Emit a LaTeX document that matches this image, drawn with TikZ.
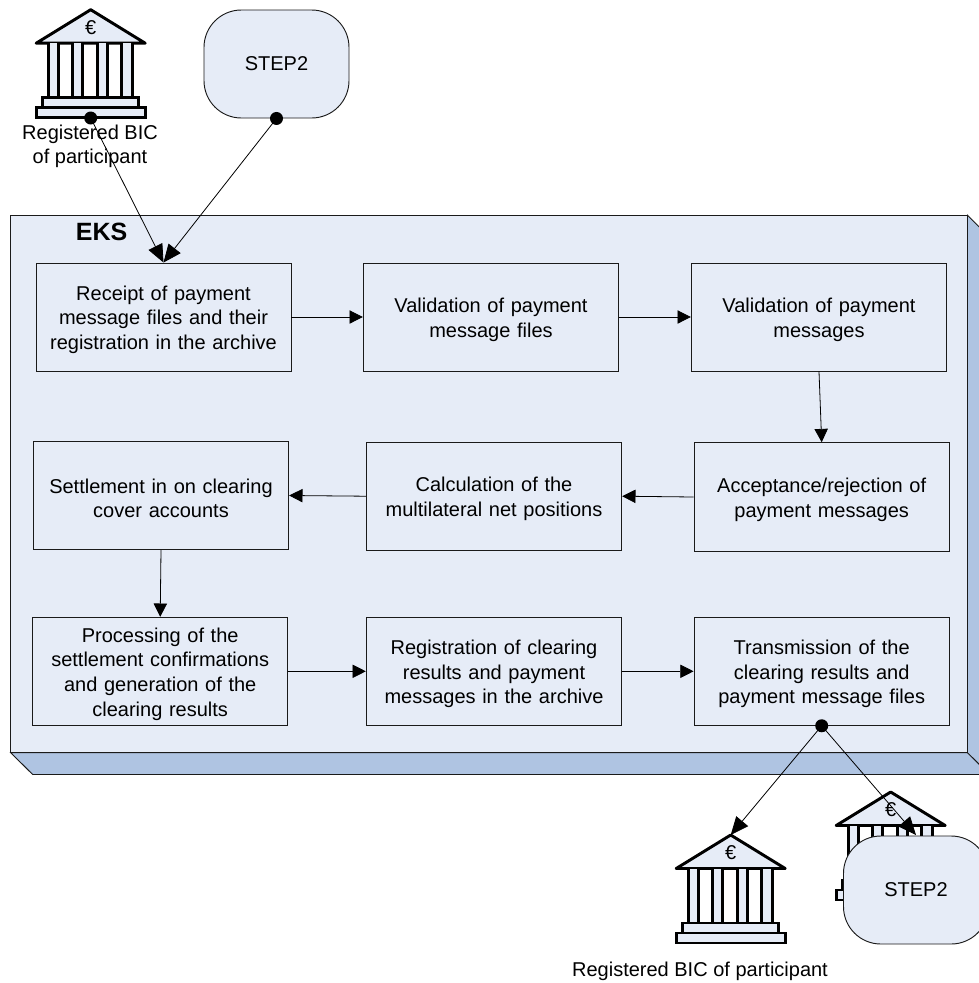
\documentclass[tikz,border=0pt]{standalone}
\usepackage{fontspec}
\setmainfont{Liberation Sans}
\usetikzlibrary{arrows.meta}
\definecolor{fillpale}{HTML}{E6ECF7}
\definecolor{fillside}{HTML}{AFC4E2}
\definecolor{edgegrey}{HTML}{1A1A1A}
\tikzset{
  x=0.75pt,y=-0.75pt,
  procbox/.style={draw=edgegrey,line width=0.7pt,fill=fillpale,inner sep=0pt,align=center,font=\fontsize{15}{18.4}\selectfont},
  cloudbox/.style={draw=edgegrey,line width=0.7pt,fill=fillpale,rounded corners=28pt,minimum width=108.75pt,minimum height=81pt,inner sep=0pt,font=\fontsize{15}{18}\selectfont},
  flow/.style={draw=black,line width=0.6pt,-{Triangle[length=10pt,width=10pt]}},
  bigflow/.style={draw=black,line width=0.6pt,-{Triangle[length=13.5pt,width=11.5pt]}},
  startdot/.style={circle,fill=black,minimum size=9.75pt,inner sep=0pt},
  caption/.style={align=center,font=\fontsize{15}{18.4}\selectfont,inner sep=0pt},
  banktext/.style={font=\fontsize{15}{18}\selectfont,inner sep=0pt},
  pics/bank/.style={code={
    \draw[line width=2.2pt,fill=fillpale,line join=round] (-54.5,33.5)--(0,0)--(54.5,33.5)--cycle;
    \foreach \a/\b in {-42/-32.4,-18/-8,6.6/16.6,31/41.6}{
      \fill[fillpale] (\a,33.5) rectangle (\b,88);
      \draw[line width=2.2pt] (\a,33.5)--(\a,88) (\b,33.5)--(\b,88);
    }
    \draw[line width=2.2pt,fill=fillpale] (-48,88) rectangle (48,98);
    \draw[line width=2.2pt,fill=fillpale] (-54.5,98) rectangle (54.5,108);
    \node[banktext] at (0,18) {€};
  }}
}
\newcommand{\procnode}[6]{%
  \node[procbox,minimum width=#4*0.75pt,minimum height=#5*0.75pt,text width=#4*0.75pt-6pt] (#1) at (#2,#3) {\rule{0pt}{15pt}#6};}
\begin{document}
\begin{tikzpicture}
\useasboundingbox (0,0) rectangle (979,983);
\clip (0,0) rectangle (979,983);
% outer 3D box
\draw[draw=edgegrey,line width=0.7pt,fill=fillside] (10.7,752.7)--(32.7,774.5)--(989.5,774.5)--(989.5,237.3)--(967.5,215.3)--(967.5,752.7)--cycle;
\draw[draw=edgegrey,line width=0.7pt] (967.5,752.7)--(989.5,774.5);
\node[draw=edgegrey,line width=0.7pt,fill=fillpale,minimum width=717.6pt,minimum height=403pt,inner sep=0pt] (eks) at (489.1,484) {};
\node[font=\fontsize{18.75}{22}\selectfont\bfseries,inner sep=0pt] (ekslabel) at (101.7,232) {EKS};
% process boxes
\procnode{recv}{163.5}{317}{255}{108}{Receipt of payment\\message files and their\\registration in the archive}
\procnode{valf}{491}{317}{255.4}{108}{Validation of payment\\message files}
\procnode{valm}{819}{317}{255.4}{108}{Validation of payment\\messages}
\procnode{accp}{821.7}{497}{255.3}{108.6}{Acceptance/rejection of\\payment messages}
\procnode{calc}{494}{496.2}{255.4}{108.3}{Calculation of the\\multilateral net positions}
\procnode{setl}{161}{495.5}{255.4}{108.4}{Settlement in on clearing\\cover accounts}
\procnode{proc}{160.2}{671.3}{255}{108}{Processing of the\\settlement confirmations\\and generation of the\\clearing results}
\procnode{regs}{494}{671.3}{255.4}{108}{Registration of clearing\\results and payment\\messages in the archive}
\procnode{tran}{821.7}{671.3}{255.3}{108}{Transmission of the\\clearing results and\\payment message files}
% process arrows
\draw[flow] (recv.east)--(valf.west);
\draw[flow] (valf.east)--(valm.west);
\draw[flow] (valm.south)--(accp.north);
\draw[flow] (accp.west)--(calc.east);
\draw[flow] (calc.west)--(setl.east);
\draw[flow] (setl.south)--(proc.north);
\draw[flow] (proc.east)--(regs.west);
\draw[flow] (regs.east)--(tran.west);
% top sources
\pic (banka) at (90.7,9.7) {bank};
\node[caption] (bictop) at (90,146.5) {Registered BIC\\of participant};
\node[cloudbox] (stepa) at (276.5,64) {STEP2};
\coordinate (bankaout) at (90.7,118);
\node[startdot] (da) at (bankaout) {};
\node[startdot] (db) at (stepa.south) {};
\draw[bigflow] (da.center)--(recv.north);
\draw[bigflow] (db.center)--(recv.north);
% bottom targets
\pic (bankb) at (730.7,835) {bank};
\pic (bankc) at (890.7,792) {bank};
\coordinate (bankbin) at (730.7,835);
\coordinate (bankcin) at (916,835);
\node[startdot] (dc) at (tran.south) {};
\draw[bigflow] (dc.center)--(bankbin);
\draw[bigflow] (dc.center)--(bankcin);
\node[cloudbox] (stepb) at (916,890) {STEP2};
\node[caption] (bicbot) at (700,971.7) {Registered BIC of participant};
\end{tikzpicture}
\end{document}
